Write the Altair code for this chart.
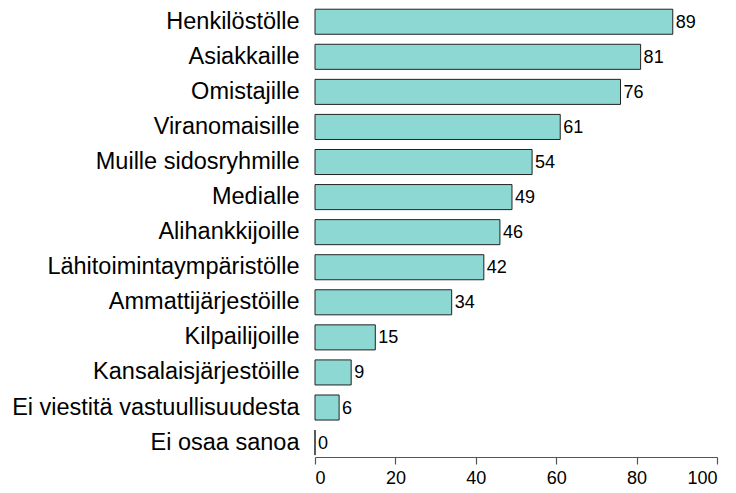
import altair as alt
import pandas as pd

categories = [
    "Henkilöstölle", "Asiakkaille", "Omistajille", "Viranomaisille",
    "Muille sidosryhmille", "Medialle", "Alihankkijoille",
    "Lähitoimintaympäristölle", "Ammattijärjestöille", "Kilpailijoille",
    "Kansalaisjärjestöille", "Ei viestitä vastuullisuudesta", "Ei osaa sanoa",
]
values = [89, 81, 76, 61, 54, 49, 46, 42, 34, 15, 9, 6, 0]
x_ticks = [0, 20, 40, 60, 80, 100]

df = pd.DataFrame({"cat": categories, "val": values})

FONT = "Liberation Sans"

y_enc = alt.Y(
    "cat:N", sort=categories, title=None,
    scale=alt.Scale(paddingInner=0.2857, paddingOuter=0.03, align=0.1),
    axis=alt.Axis(domain=False, ticks=False, labelFontSize=23.5, labelFont=FONT,
                  labelColor="#000000", labelPadding=16, labelLimit=400),
)
x_enc = alt.X(
    "val:Q", title=None,
    scale=alt.Scale(domain=[0, 100], nice=False),
    axis=alt.Axis(values=x_ticks, grid=False, domainColor="#555555", tickColor="#555555",
                  tickSize=7, labelFontSize=18, labelFont=FONT, labelColor="#000000",
                  labelPadding=5, domainWidth=1.2, tickWidth=1.2),
)

bars = alt.Chart(df).mark_bar(
    color="#8ed8d3", stroke="#222222", strokeWidth=1, cornerRadius=0
).encode(x=x_enc, y=y_enc)

labels = alt.Chart(df).mark_text(
    align="left", baseline="middle", dx=3, dy=1, fontSize=18, font=FONT, color="#000000"
).encode(x="val:Q", y=alt.Y("cat:N", sort=categories), text="val:Q")

chart = (bars + labels).properties(
    width=402, height=448, background="#ffffff",
    padding={"left": 3, "top": 0, "right": 5, "bottom": 5}
).configure_view(stroke=None)

chart.save("out.html", embed_options={"renderer": "svg", "actions": False})
